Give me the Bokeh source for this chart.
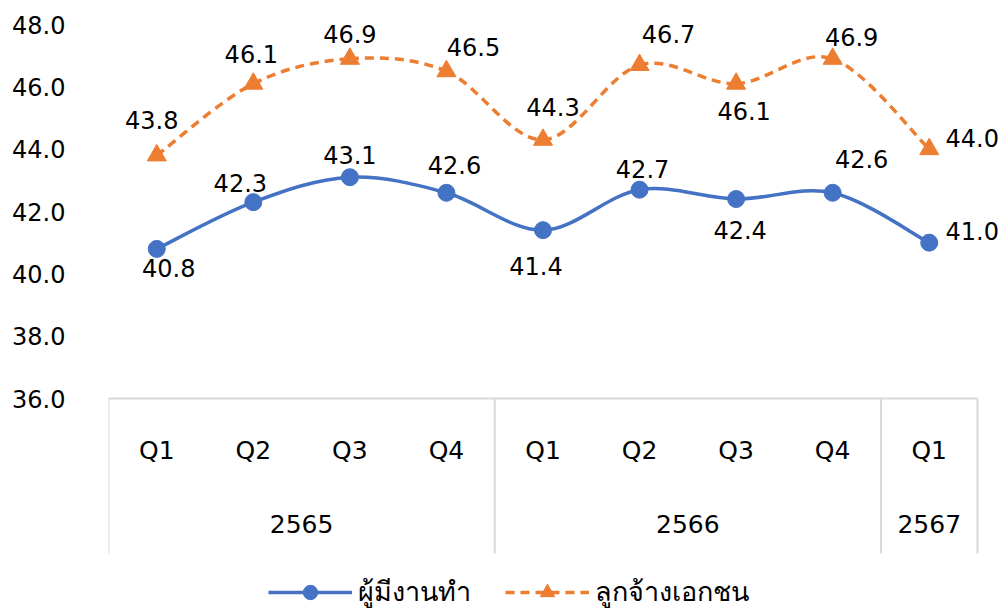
import numpy as np
from bokeh.plotting import figure
from bokeh.models import (Range1d, FixedTicker, PrintfTickFormatter,
                          Legend, LegendItem, ColumnDataSource)
from bokeh.core.properties import value
from bokeh.embed import file_html
from bokeh.resources import INLINE

# ---------------- data ----------------
years = ["2565", "2565", "2565", "2565", "2566", "2566", "2566", "2566", "2567"]
quarters = ["Q1", "Q2", "Q3", "Q4", "Q1", "Q2", "Q3", "Q4", "Q1"]
employed = [40.8, 42.3, 43.1, 42.6, 41.4, 42.7, 42.4, 42.6, 41.0]
private_emp = [43.8, 46.1, 46.9, 46.5, 44.3, 46.7, 46.1, 46.9, 44.0]
series_names = ["ผู้มีงานทำ", "ลูกจ้างเอกชน"]
y_ticks = [36, 38, 40, 42, 44, 46, 48]

# label placement (styling, screen px; dy positive = downwards)
emp_dx = [12, -13, 0, 8, -7, 3, 4, 29, 43]
emp_dy = [19, -19, -22, -28, 36, -21, 31, -34, -12]
pri_dx = [-5, -2, 0, 27, 10, 29, 8, 19, 43]
pri_dy = [-35, -30, -25, -24, -33, -31, 27, -22, -11]

BLUE = "#4472C4"
ORANGE = "#ED7D31"
GREY = "#D9D9D9"
FONT = "DejaVu Sans"

# ---------------- geometry (pixels) ----------------
CAT_W = 869 / 9.0          # width of one category slot
PPU = 374 / 12.0           # pixels per y unit
LEFT, TOP = 108, 24
FRAME_W, FRAME_H = 892, 587
n = len(quarters)
xpos = np.arange(n) + 0.5
y_lo = y_ticks[0] - (FRAME_H - (y_ticks[-1] - y_ticks[0]) * PPU) / PPU
box_bottom = y_ticks[0] - 155 / PPU

p = figure(x_range=Range1d(0, FRAME_W / CAT_W), y_range=Range1d(y_lo, y_ticks[-1]),
           frame_width=FRAME_W, frame_height=FRAME_H,
           min_border_left=LEFT, min_border_right=0, min_border_top=TOP,
           min_border_bottom=0, x_axis_location=None,
           output_backend="svg", toolbar_location=None)
p.outline_line_color = None
p.xgrid.visible = False
p.ygrid.visible = False
p.background_fill_color = "white"
p.border_fill_color = "white"

# ---------------- category axis table ----------------
bounds = [0] + [i for i in range(1, n) if years[i] != years[i - 1]] + [n]
p.segment(x0=[0], y0=[y_ticks[0]], x1=[n], y1=[y_ticks[0]],
          line_color=GREY, line_width=2)
p.segment(x0=bounds, y0=[y_ticks[0]] * len(bounds), x1=bounds,
          y1=[box_bottom] * len(bounds), line_color=GREY, line_width=2)
p.text(x=xpos, y=[y_ticks[0]] * n, text=quarters, y_offset=52,
       text_align="center", text_baseline="middle",
       text_font=value(FONT), text_font_size="25px", text_color="black")
group_names = [years[bounds[k]] for k in range(len(bounds) - 1)]
group_centres = [(bounds[k] + bounds[k + 1]) / 2 for k in range(len(bounds) - 1)]
p.text(x=group_centres, y=[y_ticks[0]] * len(group_names), text=group_names,
       y_offset=125, text_align="center", text_baseline="middle",
       text_font=value(FONT), text_font_size="25px", text_color="black")


# ---------------- smoothed series ----------------
def bezier_controls(vals):
    x = xpos
    y = np.asarray(vals, dtype=float)
    xp = np.concatenate([[x[0]], x, [x[-1]]])
    yp = np.concatenate([[y[0]], y, [y[-1]]])
    i = np.arange(len(vals) - 1)
    return dict(
        x0=x[:-1], y0=y[:-1], x1=x[1:], y1=y[1:],
        cx0=xp[i + 1] + (xp[i + 2] - xp[i]) / 6.0,
        cy0=yp[i + 1] + (yp[i + 2] - yp[i]) / 6.0,
        cx1=xp[i + 2] - (xp[i + 3] - xp[i + 1]) / 6.0,
        cy1=yp[i + 2] - (yp[i + 3] - yp[i + 1]) / 6.0,
    )


items = []
for vals, name, color, dash, marker, msize, dx, dy in [
    (employed, series_names[0], BLUE, "solid", "circle", 17, emp_dx, emp_dy),
    (private_emp, series_names[1], ORANGE, "9 6", "triangle", 19, pri_dx, pri_dy),
]:
    bsrc = ColumnDataSource(bezier_controls(vals))
    br = p.bezier(x0="x0", y0="y0", x1="x1", y1="y1", cx0="cx0", cy0="cy0",
                  cx1="cx1", cy1="cy1", source=bsrc, line_color=color,
                  line_width=3.5, line_dash=dash)
    src = ColumnDataSource(dict(x=xpos, y=vals,
                                lab=["%.1f" % v for v in vals], dx=dx, dy=dy))
    sr = p.scatter(x="x", y="y", source=src, marker=marker, size=msize,
                   fill_color=color, line_color=color)
    p.text(x="x", y="y", text="lab", source=src, x_offset="dx", y_offset="dy",
           text_align="center", text_baseline="middle",
           text_font=value(FONT), text_font_size="24px", text_color="black")
    items.append(LegendItem(label=name, renderers=[br, sr]))

# ---------------- y axis ----------------
ya = p.yaxis[0]
ya.ticker = FixedTicker(ticks=y_ticks)
ya.formatter = PrintfTickFormatter(format="%.1f")
ya.axis_line_color = None
ya.major_tick_line_color = None
ya.minor_tick_line_color = None
ya.major_tick_out = 0
ya.major_label_standoff = 43
ya.major_label_text_font = FONT
ya.major_label_text_font_size = "24px"
ya.major_label_text_color = "black"

# ---------------- legend ----------------
legend = Legend(items=items, orientation="horizontal", location=(160, -2),
                border_line_color=None, background_fill_alpha=0,
                label_text_font=FONT, label_text_font_size="27px",
                label_text_color="black", glyph_width=84, glyph_height=36,
                spacing=34, label_standoff=6, padding=0, margin=0)
p.add_layout(legend, "center")

open("out.html", "w").write(file_html(p, INLINE))
